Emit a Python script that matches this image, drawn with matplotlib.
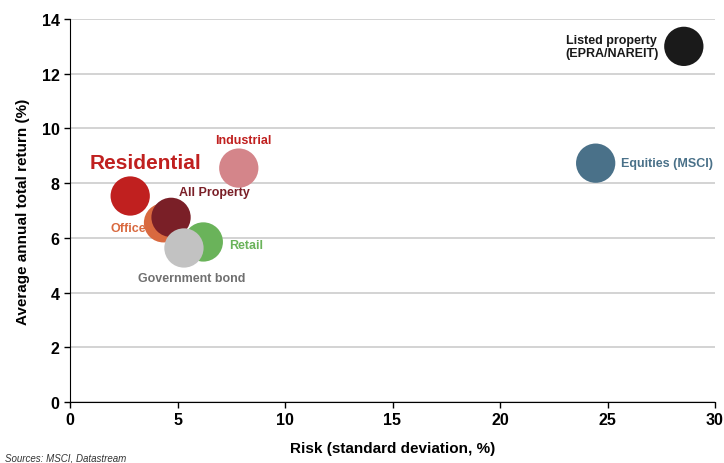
import matplotlib.pyplot as plt

plt.rcParams['font.family'] = ['Liberation Sans', 'DejaVu Sans']

names = ["Residential", "Industrial", "Office", "All Property", "Retail",
         "Government bond", "Equities (MSCI)", "Listed property\n(EPRA/NAREIT)"]
risk = [2.8, 7.85, 4.35, 4.7, 6.2, 5.3, 24.45, 28.55]
ret = [7.53, 8.55, 6.55, 6.75, 5.85, 5.63, 8.73, 13.0]
colors = ["#C0201F", "#D4858A", "#D9693F", "#7A1F27", "#6AB35A",
          "#C2C2C2", "#4A7189", "#1A1A1A"]
label_colors = ["#C0201F", "#C0201F", "#D9693F", "#7A1F27", "#6AB35A",
                "#707070", "#4A7189", "#1A1A1A"]
label_x = [3.5, 8.05, 2.7, 6.7, 8.2, 5.67, 27.75, 25.2]
label_y = [8.77, 9.58, 6.36, 7.68, 5.74, 4.53, 8.73, 13.0]
label_size = [15, 9, 9, 9, 9, 9, 9, 9]

fig = plt.figure(figsize=(7.24, 4.64), dpi=100)
ax = fig.add_axes([70 / 724, 1 - 403 / 464, 645 / 724, 383 / 464])

for i in range(len(names)):
    ax.scatter(risk[i], ret[i], s=800, color=colors[i], edgecolors='none', zorder=3 + i)
    ax.text(label_x[i], label_y[i], names[i], color=label_colors[i],
            fontsize=label_size[i], fontweight='bold', ha='center', va='center',
            multialignment='center', zorder=20, linespacing=1.05)

ax.set_xlim(0, 30)
ax.set_ylim(0, 14)
ax.set_xticks(range(0, 31, 5))
ax.set_yticks(range(0, 15, 2))
ax.yaxis.grid(True, color='#CCCCCC', linewidth=1.2)
ax.set_axisbelow(True)
for s in ['top', 'right']:
    ax.spines[s].set_visible(False)
ax.tick_params(labelsize=11.5, width=1, length=4)
for lab in ax.get_xticklabels() + ax.get_yticklabels():
    lab.set_fontweight('bold')

ax.set_xlabel("Risk (standard deviation, %)", fontsize=11, fontweight='bold', labelpad=10)
ax.set_ylabel("Average annual total return (%)", fontsize=11, fontweight='bold', labelpad=8)

fig.text(5 / 724, 1 - 459 / 464, "Sources: MSCI, Datastream", fontsize=7,
         style='italic', va='center', color='#333333')

fig.savefig("out.png", dpi=100)
